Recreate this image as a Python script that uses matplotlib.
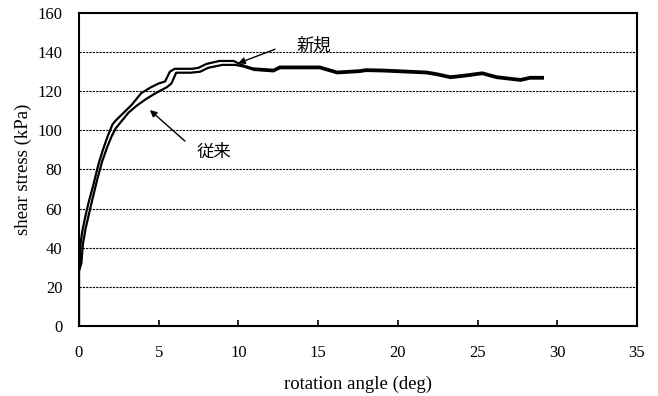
import numpy as np
import matplotlib
matplotlib.use("Agg")
import matplotlib.pyplot as plt

# shear stress vs rotation angle, two test methods

#---data---#
new_x = [0, 0, 0.05, 0.1, 0.2, 0.4, 0.6, 0.9, 1.2, 1.5, 1.8, 2.1, 2.3, 2.8, 3.3, 3.9,
         4.5, 5.0, 5.4, 5.7, 6.0, 7.1, 7.5, 8.0, 8.8, 9.7, 10.2, 10.9, 12.2, 12.6,
         14.5, 15.1, 16.2, 17.6, 18.0, 19.1, 21.8, 22.4, 23.3, 24.1, 25.3, 26.2,
         27.7, 28.3, 29.1]
new_y = [0, 28, 32, 42, 48, 56, 63, 72, 82, 90, 97, 103, 105, 109, 113, 119,
         122, 124, 125, 130, 131.5, 131.5, 132, 134, 135.5, 135.5, 133.5, 131.7, 131, 132.6,
         132.6, 132.6, 130, 130.7, 131.2, 131, 130, 129.2, 127.6, 128.3, 129.6, 127.6,
         126.2, 127.3, 127.3]

old_x = [0, 0, 0.15, 0.25, 0.42, 0.62, 0.85, 1.15, 1.45, 1.75, 2.05, 2.3, 2.7, 3.1, 3.6,
         4.2, 4.8, 5.5, 5.8, 6.1, 7.0, 7.6, 8.1, 9.0, 9.8, 10.3, 11.0, 12.2, 12.6,
         14.5, 15.1, 16.2, 17.6, 18.0, 19.1, 21.8, 22.4, 23.3, 24.1, 25.3, 26.2,
         27.7, 28.3, 29.1]
old_y = [0, 28, 32, 42, 50, 57, 65, 75, 84, 91, 97, 101, 105, 109, 112.5,
         116, 119, 122, 124, 129.5, 129.5, 130, 132, 133.5, 133.5, 132.7, 130.9, 130.2, 131.8,
         131.8, 131.8, 129.2, 129.9, 130.4, 130.2, 129.2, 128.4, 126.8, 127.5, 128.8, 126.8,
         125.4, 126.5, 126.5]

x_ticks = [0, 5, 10, 15, 20, 25, 30, 35]
y_ticks = [0, 20, 40, 60, 80, 100, 120, 140, 160]

new_label = "新規"
old_label = "従来"

#---plot configuration---#
serif = "Liberation Serif"
jp = ["Noto Sans CJK JP", "DejaVu Sans"]

fig = plt.figure(figsize=(6.58, 3.96), dpi=100)
ax = fig.add_axes([0.120, 0.177, 0.848, 0.790])

for yy in y_ticks[1:-1]:
    ax.axhline(yy, color="black", linestyle=(0, (2, 1)), linewidth=0.8, zorder=1)

ax.plot(old_x, old_y, color="black", linewidth=1.6, zorder=2)
ax.plot(new_x, new_y, color="black", linewidth=1.6, zorder=2)

ax.set_xlim(0, 35)
ax.set_ylim(0, 160)
ax.set_xticks(x_ticks)
ax.set_yticks(y_ticks)

for s in ax.spines.values():
    s.set_linewidth(1.5)

ax.tick_params(axis="x", direction="in", length=4, width=1.2, pad=14, labelsize=12)
ax.tick_params(axis="y", length=0, pad=12, labelsize=12)
for lab in ax.get_xticklabels() + ax.get_yticklabels():
    lab.set_family(serif)

ax.set_xlabel("rotation angle (deg)", family=serif, fontsize=13.5, labelpad=10)
ax.set_ylabel("shear stress (kPa)", family=serif, fontsize=13.5, labelpad=4)

arrow = dict(arrowstyle="-|>", color="black", lw=1.0, mutation_scale=10,
             shrinkA=0, shrinkB=0)
ax.annotate("", xy=(9.98, 134.3), xytext=(12.3, 141.5), arrowprops=arrow)
ax.annotate("", xy=(4.45, 110.4), xytext=(6.65, 94.5), arrowprops=arrow)
ax.text(14.72, 143.4, new_label, fontsize=12.5, family=jp, ha="center", va="center")
ax.text(8.47, 89.2, old_label, fontsize=12.5, family=jp, ha="center", va="center")

fig.savefig("out.png", dpi=100)
